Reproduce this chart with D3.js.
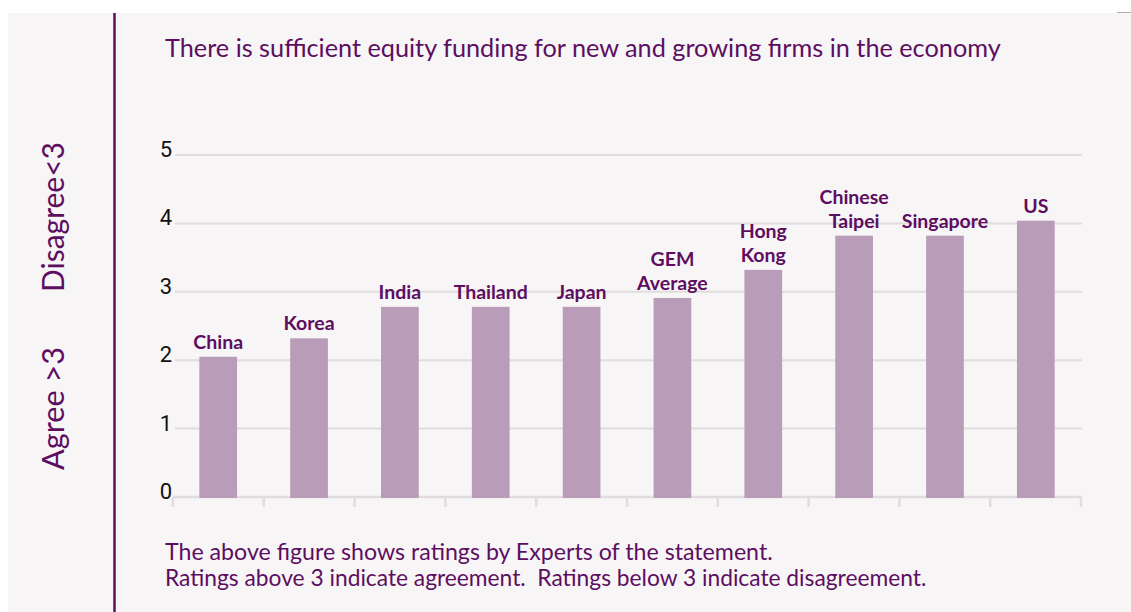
<!DOCTYPE html>
<html>
<head>
<meta charset="utf-8">
<script src="https://cdn.jsdelivr.net/npm/d3@7"></script>
<style>
  html, body { margin: 0; padding: 0; background: #ffffff; }
  svg { display: block; }
  text { white-space: pre; }
</style>
</head>
<body>
<svg id="chart" width="1131" height="612"></svg>
<script>
// ---- Data ----
const categories = ["China", "Korea", "India", "Thailand", "Japan", "GEM Average", "Hong Kong", "Chinese Taipei", "Singapore", "US"];
const categoryLines = [["China"], ["Korea"], ["India"], ["Thailand"], ["Japan"], ["GEM", "Average"], ["Hong", "Kong"], ["Chinese", "Taipei"], ["Singapore"], ["US"]];
const values = [2.05, 2.32, 2.78, 2.78, 2.78, 2.91, 3.32, 3.82, 3.82, 4.04];
const yTicks = [0, 1, 2, 3, 4, 5];
const titleText = "There is sufficient equity funding for new and growing firms in the economy";
const noteLines = [
  "The above figure shows ratings by Experts of the statement.",
  "Ratings above 3 indicate agreement.  Ratings below 3 indicate disagreement."
];
const sideLabels = ["Agree >3", "Disagree<3"];

// ---- Style ----
const purple = "#5d0e61";
const barColor = "#b89cb8";
const gridColor = "#e0dcdf";
const bg = "#f7f5f6";
const textFont = "Lato, 'Open Sans', sans-serif";

const svg = d3.select("#chart");

// panel background
svg.append("rect").attr("x", 8).attr("y", 13).attr("width", 1131 - 8).attr("height", 612 - 13).attr("fill", bg);
// small top-right rule
svg.append("line").attr("x1", 1117).attr("x2", 1131).attr("y1", 12.5).attr("y2", 12.5)
  .attr("stroke", "#b0b0b0").attr("stroke-width", 1);
// vertical purple rule
svg.append("line").attr("x1", 114.5).attr("x2", 114.5).attr("y1", 13).attr("y2", 612)
  .attr("stroke", purple).attr("stroke-width", 2.5);

// helper: fit text to width
function fit(sel, target, base) {
  sel.attr("font-size", base);
  const w = sel.node().getComputedTextLength();
  sel.attr("font-size", base * target / w);
}

// Title
const title = svg.append("text").attr("x", 165).attr("y", 57)
  .attr("fill", purple).attr("font-family", textFont).attr("font-weight", 400)
  .text(titleText);
fit(title, 836, 24);

// Scales
const x = d3.scaleBand().domain(categories).range([173, 1081]).paddingInner(0.585).paddingOuter(0.29);
const y = d3.scaleLinear().domain([0, 5]).range([497, 155]);

// gridlines
svg.append("g").selectAll("line").data(yTicks.filter(d => d > 0)).join("line")
  .attr("x1", 175).attr("x2", 1082)
  .attr("y1", d => y(d)).attr("y2", d => y(d))
  .attr("stroke", gridColor).attr("stroke-width", 2);

// x axis baseline with ticks at band boundaries
const xAxisScale = d3.scaleLinear().domain([0, categories.length]).range([173, 1081]);
const edges = d3.range(categories.length + 1);
const xAxisG = svg.append("g");
xAxisG.append("line").attr("x1", 173).attr("x2", 1082).attr("y1", y(0)).attr("y2", y(0))
  .attr("stroke", gridColor).attr("stroke-width", 2.5);
xAxisG.selectAll("line.tk").data(edges).join("line").attr("class", "tk")
  .attr("x1", d => xAxisScale(d)).attr("x2", d => xAxisScale(d))
  .attr("y1", y(0)).attr("y2", y(0) + 10)
  .attr("stroke", gridColor).attr("stroke-width", 2.5);

// y tick labels
svg.append("g").selectAll("text").data(yTicks).join("text")
  .attr("x", 172).attr("y", d => y(d) + 2)
  .attr("text-anchor", "end")
  .attr("font-family", "Roboto, 'Open Sans', sans-serif").attr("font-size", 22)
  .attr("fill", "#111").text(d => d);

// bars
svg.append("g").selectAll("rect").data(values).join("rect")
  .attr("x", (d, i) => x(categories[i]))
  .attr("width", x.bandwidth())
  .attr("y", d => y(d))
  .attr("height", d => y(0) - y(d) + 1)
  .attr("fill", barColor);

// bar labels
const lab = svg.append("g").selectAll("text").data(values).join("text")
  .attr("text-anchor", "middle")
  .attr("font-family", "Lato, 'Open Sans', sans-serif").attr("font-weight", 700)
  .attr("font-size", 19.5).attr("fill", purple)
  .attr("transform", (d, i) => `translate(${x(categories[i]) + x.bandwidth() / 2},${y(d) - 8})`);
lab.each(function(d, i) {
  const lines = categoryLines[i];
  const t = d3.select(this);
  lines.forEach((ln, j) => {
    t.append("tspan").attr("x", 0).attr("y", -(lines.length - 1 - j) * 23.5).text(ln);
  });
});

// side labels (rotated)
const agree = svg.append("text").attr("transform", "translate(64,470) rotate(-90)")
  .attr("fill", purple).attr("font-family", textFont).text(sideLabels[0]);
fit(agree, 123, 28);
const disagree = svg.append("text").attr("transform", "translate(64,292) rotate(-90)")
  .attr("fill", purple).attr("font-family", textFont).text(sideLabels[1]);
fit(disagree, 150, 28);

// notes
const n1 = svg.append("text").attr("x", 165).attr("y", 560).attr("fill", purple)
  .attr("font-family", textFont).text(noteLines[0]);
fit(n1, 608, 20);
const n2 = svg.append("text").attr("x", 165).attr("y", 586).attr("fill", purple)
  .attr("font-family", textFont).text(noteLines[1]);
fit(n2, 762, 20);
</script>
</body>
</html>
